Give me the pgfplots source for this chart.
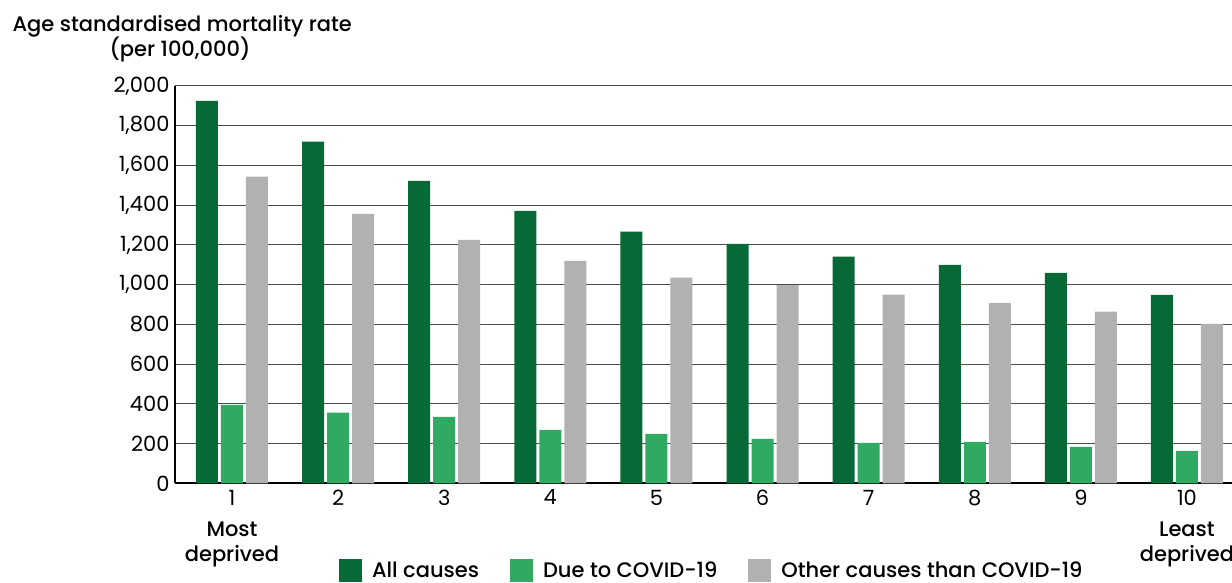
\documentclass[border=0pt]{standalone}
\usepackage{pgfplots}
\pgfplotsset{compat=1.18}
\usepackage{fontspec}
\setmainfont{Poppins}
\newfontfamily\medfont{Poppins Medium}

\definecolor{allc}{RGB}{7,105,54}
\definecolor{covid}{RGB}{48,170,99}
\definecolor{other}{RGB}{177,177,177}

\pgfplotsset{
  sq/.style={legend image code/.code={\fill[##1] (0pt,-11.5pt) rectangle (23pt,11.5pt);}},
}

\begin{document}
\begin{tikzpicture}
\begin{axis}[
  name=ax, at={(0,0)}, anchor=south west,
  scale only axis, width=1057pt, height=397.4pt,
  ybar=3pt, bar width=22pt,
  xmin=0.463, xmax=10.424, ymin=0, ymax=2000,
  xtick={1,...,10}, ytick={0,200,...,2000},
  ymajorgrids, grid style={black!70, line width=1pt},
  axis lines*=left, axis line style={line width=2pt, black},
  major tick length=0pt,
  tick label style={font=\fontsize{21}{25}\selectfont},
  /pgf/number format/assume math mode=true,
  /pgf/number format/1000 sep={,},
  xticklabel style={yshift=-3pt},
  yticklabel style={xshift=-2pt},
  clip=false,
  legend style={draw=none, fill=none, inner sep=0pt, outer sep=0pt,
    at={(0.1552,-0.218)}, anchor=west, legend columns=-1,
    font=\medfont\fontsize{21}{25}\selectfont,
    /tikz/every odd column/.append style={column sep=8pt},
    /tikz/every even column/.append style={column sep=29pt}},
]
\addplot[fill=allc, draw=none, sq] coordinates {
  (1,1925) (2,1720) (3,1523) (4,1372) (5,1267)
  (6,1206) (7,1141) (8,1100) (9,1060) (10,949)
};
\addplot[fill=covid, draw=none, sq] coordinates {
  (1,395) (2,356) (3,335) (4,269) (5,249)
  (6,224) (7,204) (8,209) (9,184) (10,164)
};
\addplot[fill=other, draw=none, sq] coordinates {
  (1,1544) (2,1357) (3,1226) (4,1120) (5,1035)
  (6,998) (7,950) (8,909) (9,864) (10,803)
};
\legend{All causes, Due to COVID-19, Other causes than COVID-19}

\node[font=\medfont\fontsize{21}{25}\selectfont, anchor=base, yshift=-53.3pt] at (axis cs:1,0) {Most};
\node[font=\medfont\fontsize{21}{25}\selectfont, anchor=base, yshift=-78.3pt] at (axis cs:1,0) {deprived};
\node[font=\medfont\fontsize{21}{25}\selectfont, anchor=base, yshift=-53.3pt] at (axis cs:10,0) {Least};
\node[font=\medfont\fontsize{21}{25}\selectfont, anchor=base, yshift=-78.3pt] at (axis cs:10,0) {deprived};
\end{axis}
\node[font=\medfont\fontsize{21}{25}\selectfont, anchor=base west] at (-166pt,451.4pt) {Age standardised mortality rate};
\node[font=\medfont\fontsize{21}{25}\selectfont, anchor=base] at (5pt,427pt) {(per 100,000)};
\pgfresetboundingbox
\useasboundingbox (-175pt,-99.6pt) rectangle (1057pt,483.4pt);
\end{tikzpicture}
\end{document}
